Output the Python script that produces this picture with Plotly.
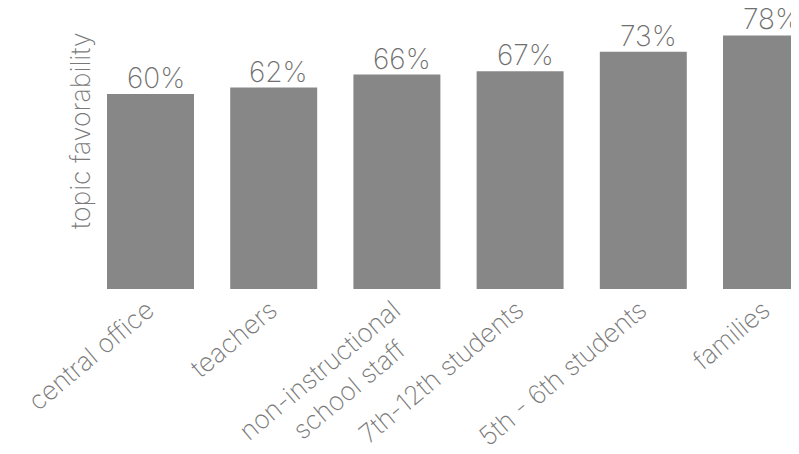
import plotly.graph_objects as go

NB = "\u00a0"
categories = ["central office", "teachers", "non-instructional<br>school staff" + NB * 3,
              "7th-12th students", "5th - 6th students", "families"]
values = [60, 62, 66, 67, 73, 78]
labels = [f"{v}%" for v in values]

W, H = 799, 454
L, R, T, B = 81, 0, 0, 173
PX_PER_CAT = 123.2
FIRST_CENTER = 142.5
plot_w = W - L - R
plot_h = H - T - B
FONT = "Inter"

fig = go.Figure(go.Bar(
    x=categories, y=values,
    marker=dict(color="#878787", line=dict(width=0)),
))

ann = [dict(x=c, y=v, text=t, xref="x", yref="y", showarrow=False,
            xanchor="center", yanchor="bottom", yshift=-3, xshift=5,
            font=dict(family=FONT, size=28, color="#6f6f6f", weight=200))
       for c, v, t in zip(categories, values, labels)]
ann.append(dict(text="topic favorability", textangle=-90, xref="paper", yref="paper",
                x=(72 - L) / plot_w, y=(plot_h - 123) / plot_h,
                xanchor="center", yanchor="middle", showarrow=False,
                font=dict(family=FONT, size=26.5, color="#7a7a7a", weight=200)))

fig.update_layout(
    width=W, height=H,
    margin=dict(l=L, r=R, t=T, b=B, autoexpand=False),
    plot_bgcolor="white", paper_bgcolor="white",
    bargap=0.294,
    showlegend=False,
    xaxis=dict(range=[-(FIRST_CENTER - L) / PX_PER_CAT, (W - R - FIRST_CENTER) / PX_PER_CAT],
               tickangle=-40, showgrid=False, showline=False, automargin=False,
               ticklabelshift=-3, ticklabelstandoff=0,
               ticks="", tickfont=dict(family=FONT, size=26, color="#7a7a7a", weight=200)),
    yaxis=dict(range=[0, plot_h / 3.25], showticklabels=False, showgrid=False, zeroline=False,
               showline=False, ticks="", automargin=False),
    annotations=ann,
)

fig.write_html("out.html")
